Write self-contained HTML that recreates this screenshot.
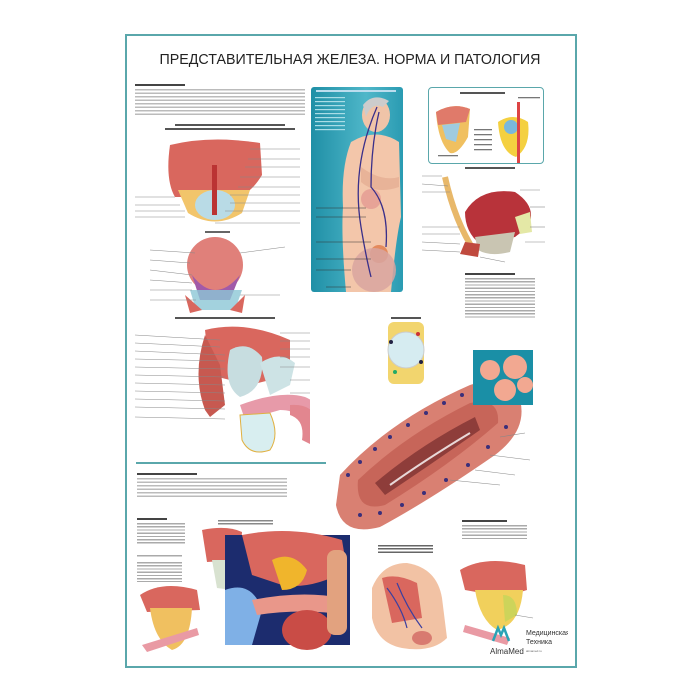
<!DOCTYPE html>
<html><head><meta charset="utf-8"><style>
html,body{margin:0;padding:0;background:#fff;width:700px;height:700px;overflow:hidden;font-family:"Liberation Sans",sans-serif}
.a{position:absolute}
</style></head><body>
<div class="a" style="left:125px;top:34px;width:448px;height:630px;border:2px solid #5aa7ab"></div>
<div class="a" style="left:120px;top:51px;width:460px;text-align:center;font-size:15px;color:#222;transform:scaleX(0.95)">ПРЕДСТАВИТЕЛЬНАЯ ЖЕЛЕЗА. НОРМА И ПАТОЛОГИЯ</div>

<div class="a" style="left:135px;top:84px;width:50px;height:2px;background:#444"></div>
<div class="a" style="left:135px;top:89px;width:170px;height:28px;background:repeating-linear-gradient(#bbb 0 1.3px,transparent 1.3px 3.5px)"></div>
<div class="a" style="left:175px;top:124px;width:110px;height:2px;background:#555"></div>
<div class="a" style="left:165px;top:128px;width:130px;height:2px;background:#555"></div>

<svg class="a" style="left:130px;top:135px" width="180" height="320">
<path d="M40 10 Q80 0 130 8 L132 40 Q120 60 105 62 L45 62 Q35 45 40 10Z" fill="#d9675e"/>
<path d="M48 55 L120 55 L112 78 Q85 95 58 78Z" fill="#f2c56b"/>
<ellipse cx="85" cy="70" rx="20" ry="15" fill="#b9dbe6"/>
<rect x="82" y="30" width="5" height="50" fill="#b33"/>
<g stroke="#888" stroke-width="0.6">
<line x1="120" y1="14" x2="170" y2="14"/><line x1="118" y1="24" x2="170" y2="24"/><line x1="115" y1="32" x2="170" y2="32"/><line x1="110" y1="42" x2="170" y2="42"/><line x1="108" y1="52" x2="170" y2="52"/><line x1="100" y1="60" x2="170" y2="60"/><line x1="100" y1="68" x2="170" y2="68"/><line x1="95" y1="76" x2="170" y2="76"/><line x1="85" y1="88" x2="170" y2="88"/>
<line x1="5" y1="62" x2="45" y2="62"/><line x1="5" y1="70" x2="50" y2="70"/><line x1="5" y1="76" x2="55" y2="76"/><line x1="5" y1="82" x2="55" y2="82"/>
</g>
<rect x="75" y="96" width="25" height="2" fill="#666"/>
<circle cx="85" cy="130" r="28" fill="#e0807a"/>
<path d="M62 140 Q85 170 110 140 L100 165 L70 165Z" fill="#a15aa8"/>
<path d="M60 155 L112 155 L105 175 L66 175Z" fill="#8cc7d6" opacity=".8"/>
<path d="M55 160 L72 175 L60 178Z" fill="#d9675e"/>
<path d="M115 160 L100 175 L112 178Z" fill="#d9675e"/>
<g stroke="#888" stroke-width="0.6">
<line x1="20" y1="115" x2="65" y2="118"/><line x1="20" y1="125" x2="60" y2="128"/><line x1="20" y1="135" x2="62" y2="140"/><line x1="20" y1="145" x2="62" y2="148"/><line x1="20" y1="155" x2="62" y2="155"/><line x1="20" y1="165" x2="66" y2="165"/><line x1="110" y1="118" x2="155" y2="112"/><line x1="110" y1="160" x2="150" y2="160"/>
</g>
<rect x="45" y="182" width="100" height="2" fill="#555"/>
<path d="M75 195 Q115 185 160 205 L160 240 Q140 245 120 250 L80 240Z" fill="#d9675e"/>
<path d="M75 200 Q62 240 75 275 L80 282 L95 270 L90 230Z" fill="#c75950"/>
<path d="M100 215 Q118 205 132 222 Q135 255 110 262 Q92 250 100 215Z" fill="#c7dde0"/>
<path d="M130 228 Q150 215 165 228 L160 250 L140 260Z" fill="#cde3e5"/>
<path d="M110 270 Q150 255 175 262 Q195 270 190 295 L180 300 Q175 275 150 275 L115 285Z" fill="#e79aa9"/>
<path d="M160 270 Q185 268 188 290 L182 310 L172 305 Q175 285 160 280Z" fill="#e2868f"/>
<path d="M110 280 L140 278 Q150 300 140 315 Q120 322 112 305Z" fill="#d8eef0" stroke="#e0b040"/>
<g stroke="#888" stroke-width="0.6">
<line x1="5" y1="200" x2="90" y2="205"/><line x1="5" y1="208" x2="90" y2="212"/><line x1="5" y1="216" x2="95" y2="220"/><line x1="5" y1="224" x2="95" y2="226"/><line x1="5" y1="232" x2="95" y2="234"/><line x1="5" y1="240" x2="95" y2="242"/><line x1="5" y1="248" x2="95" y2="250"/><line x1="5" y1="256" x2="95" y2="258"/><line x1="5" y1="264" x2="95" y2="266"/><line x1="5" y1="272" x2="95" y2="274"/><line x1="5" y1="282" x2="95" y2="284"/>
<line x1="150" y1="198" x2="180" y2="198"/><line x1="150" y1="206" x2="180" y2="206"/><line x1="150" y1="214" x2="180" y2="214"/><line x1="150" y1="222" x2="180" y2="222"/><line x1="150" y1="232" x2="180" y2="232"/><line x1="160" y1="245" x2="180" y2="245"/><line x1="160" y1="258" x2="180" y2="258"/>
</g>
</svg>

<div class="a" style="left:136px;top:462px;width:190px;height:1.5px;background:#5aa7ab"></div>
<div class="a" style="left:137px;top:473px;width:60px;height:2px;background:#444"></div>
<div class="a" style="left:137px;top:478px;width:150px;height:20px;background:repeating-linear-gradient(#bbb 0 1.3px,transparent 1.3px 3.5px)"></div>

<div class="a" style="left:311px;top:87px;width:92px;height:205px;background:linear-gradient(90deg,#1f8fa6,#4fb7c9 60%,#2a9bb2);border-radius:3px"></div>
<svg class="a" style="left:311px;top:87px" width="92" height="205">
<rect x="5" y="3" width="80" height="2" fill="#bde"/>
<g fill="#a9dde6"><rect x="4" y="10" width="30" height="1.2"/><rect x="4" y="14" width="30" height="1.2"/><rect x="4" y="18" width="30" height="1.2"/><rect x="4" y="22" width="30" height="1.2"/><rect x="4" y="26" width="30" height="1.2"/><rect x="4" y="30" width="30" height="1.2"/><rect x="4" y="34" width="30" height="1.2"/><rect x="4" y="38" width="30" height="1.2"/><rect x="4" y="42" width="30" height="1.2"/></g>
<ellipse cx="65" cy="28" rx="14" ry="17" fill="#f0c4a8"/>
<path d="M52 18 Q62 5 78 14 L72 20 Q60 15 55 30Z" fill="#ccc"/>
<path d="M40 55 Q65 40 88 55 L90 130 Q85 150 80 205 L35 205 Q30 150 32 120 Q30 80 40 55Z" fill="#f3c6aa"/>
<path d="M50 80 Q70 95 88 90 L88 100 Q65 108 50 95Z" fill="#e8b398"/>
<circle cx="60" cy="112" r="10" fill="#e39a92" opacity=".8"/>
<circle cx="68" cy="167" r="9" fill="#e07a4a" opacity=".8"/>
<circle cx="63" cy="183" r="22" fill="#d8a5a0" opacity=".85"/>
<path d="M66 20 Q40 80 50 140 Q55 170 60 190" stroke="#3a2f8a" stroke-width="1.3" fill="none"/>
<path d="M68 25 Q60 60 60 100 Q78 120 75 160" stroke="#3a2f8a" stroke-width="1.3" fill="none"/>
<g stroke="#333" stroke-width="0.5"><line x1="5" y1="121" x2="55" y2="121"/><line x1="5" y1="130" x2="55" y2="130"/><line x1="5" y1="155" x2="60" y2="155"/><line x1="5" y1="172" x2="60" y2="172"/><line x1="5" y1="183" x2="40" y2="183"/><line x1="15" y1="200" x2="40" y2="200"/></g>
</svg>

<div class="a" style="left:428px;top:87px;width:114px;height:75px;border:1.5px solid #5aa7ab;border-radius:4px"></div>
<div class="a" style="left:460px;top:92px;width:45px;height:2px;background:#555"></div>
<svg class="a" style="left:428px;top:87px" width="116" height="76">
<path d="M8 25 Q25 15 42 22 L40 50 Q30 68 22 66 Q10 55 8 25Z" fill="#f0c060"/>
<path d="M8 25 Q25 15 42 22 L38 35 L10 38Z" fill="#e07a6a"/>
<path d="M14 38 L32 36 L28 55 L18 52Z" fill="#9fcbe0"/>
<path d="M70 35 Q85 25 100 35 Q103 60 88 70 Q72 65 70 35Z" fill="#f4d040"/>
<circle cx="83" cy="40" r="7" fill="#7ab8dc"/>
<rect x="89" y="15" width="3" height="62" fill="#d44"/>
<g fill="#777"><rect x="46" y="42" width="18" height="1.3"/><rect x="46" y="47" width="18" height="1.3"/><rect x="46" y="52" width="18" height="1.3"/><rect x="46" y="57" width="18" height="1.3"/><rect x="46" y="62" width="18" height="1.3"/><rect x="90" y="10" width="22" height="1.3"/><rect x="10" y="68" width="20" height="1.3"/></g>
</svg>
<div class="a" style="left:465px;top:167px;width:50px;height:2px;background:#555"></div>

<svg class="a" style="left:420px;top:172px" width="130" height="100">
<path d="M25 5 Q35 50 55 80" stroke="#e8b86a" stroke-width="6" fill="none"/>
<path d="M45 40 Q60 15 95 20 Q118 35 108 55 L95 65 L60 72 Q45 60 45 40Z" fill="#b8333a"/>
<path d="M95 45 L110 40 L112 60 L100 62Z" fill="#e4e8a6"/>
<path d="M55 65 L95 60 L90 80 Q70 85 58 78Z" fill="#c9c5b2"/>
<path d="M45 70 L60 72 L58 85 L40 82Z" fill="#c04a3e"/>
<g stroke="#888" stroke-width="0.6"><line x1="2" y1="4" x2="22" y2="4"/><line x1="2" y1="12" x2="28" y2="14"/><line x1="2" y1="20" x2="30" y2="20"/><line x1="2" y1="55" x2="40" y2="55"/><line x1="2" y1="62" x2="40" y2="62"/><line x1="2" y1="70" x2="40" y2="72"/><line x1="2" y1="78" x2="40" y2="80"/><line x1="100" y1="18" x2="120" y2="18"/><line x1="110" y1="35" x2="125" y2="35"/><line x1="110" y1="55" x2="125" y2="55"/><line x1="105" y1="70" x2="125" y2="70"/><line x1="60" y1="85" x2="85" y2="90"/></g>
</svg>
<div class="a" style="left:465px;top:273px;width:50px;height:2px;background:#444"></div>
<div class="a" style="left:465px;top:278px;width:70px;height:40px;background:repeating-linear-gradient(#aaa 0 1.3px,transparent 1.3px 3.2px)"></div>

<svg class="a" style="left:383px;top:312px" width="60" height="75">
<rect x="8" y="5" width="30" height="2" fill="#555"/>
<rect x="5" y="10" width="36" height="62" rx="6" fill="#f2d56e"/>
<circle cx="23" cy="38" r="18" fill="#d6ecf1" stroke="#ccc"/>
<circle cx="8" cy="30" r="2" fill="#224"/><circle cx="38" cy="50" r="2" fill="#224"/><circle cx="12" cy="60" r="2" fill="#2a6"/><circle cx="35" cy="22" r="2" fill="#c33"/>
</svg>

<svg class="a" style="left:330px;top:345px" width="210" height="200">
<path d="M10 130 Q60 75 140 40 Q178 28 190 55 Q198 85 165 110 Q100 155 50 182 Q12 192 6 160Z" fill="#d98072"/>
<path d="M28 135 Q75 90 140 58 Q170 52 168 78 Q120 120 55 160 Q25 168 28 135Z" fill="#c76559"/>
<path d="M45 138 Q90 100 145 72 L150 85 Q100 120 55 150Z" fill="#8e3d3a"/>
<path d="M60 140 Q95 115 140 88" stroke="#e8d8d8" stroke-width="2" fill="none"/>
<g fill="#3b2f7a">
<circle cx="18" cy="130" r="2"/><circle cx="30" cy="117" r="2"/><circle cx="45" cy="104" r="2"/><circle cx="60" cy="92" r="2"/><circle cx="78" cy="80" r="2"/><circle cx="96" cy="68" r="2"/><circle cx="114" cy="58" r="2"/><circle cx="132" cy="50" r="2"/>
<circle cx="30" cy="170" r="2"/><circle cx="50" cy="168" r="2"/><circle cx="72" cy="160" r="2"/><circle cx="94" cy="148" r="2"/><circle cx="116" cy="135" r="2"/><circle cx="138" cy="120" r="2"/><circle cx="158" cy="102" r="2"/><circle cx="176" cy="82" r="2"/>
</g>
<g stroke="#888" stroke-width="0.6"><line x1="170" y1="92" x2="195" y2="88"/><line x1="160" y1="110" x2="200" y2="115"/><line x1="145" y1="125" x2="185" y2="130"/><line x1="120" y1="135" x2="170" y2="140"/></g>
<rect x="143" y="5" width="60" height="55" fill="#1a8fa6"/>
<g fill="#f2a891"><circle cx="160" cy="25" r="10"/><circle cx="185" cy="22" r="12"/><circle cx="175" cy="45" r="11"/><circle cx="195" cy="40" r="8"/></g>
</svg>

<div class="a" style="left:137px;top:518px;width:30px;height:2px;background:#444"></div>
<div class="a" style="left:137px;top:523px;width:48px;height:22px;background:repeating-linear-gradient(#aaa 0 1.3px,transparent 1.3px 3.2px)"></div>
<div class="a" style="left:137px;top:555px;width:45px;height:3px;background:repeating-linear-gradient(#aaa 0 1.3px,transparent 1.3px 3px)"></div>
<div class="a" style="left:137px;top:562px;width:45px;height:20px;background:repeating-linear-gradient(#aaa 0 1.3px,transparent 1.3px 3.2px)"></div>
<svg class="a" style="left:132px;top:520px" width="240" height="140">
<path d="M8 75 Q30 60 65 70 L68 90 L15 92Z" fill="#d9675e"/>
<path d="M18 88 L60 88 Q58 125 40 130 Q22 120 18 88Z" fill="#f0c060"/>
<path d="M10 125 L65 108 L67 115 L15 132Z" fill="#e99aa4"/>
<path d="M70 10 Q95 5 110 12 L108 40 L75 42Z" fill="#d9675e"/>
<path d="M80 40 L105 40 L100 70 L85 68Z" fill="#d8e2d0"/>
<rect x="93" y="15" width="125" height="110" fill="#1c2c6e"/>
<path d="M93 70 Q120 60 130 90 L120 125 L93 125Z" fill="#7fb0e6"/>
<path d="M110 15 Q160 5 210 20 L215 50 Q180 70 150 65 L120 55Z" fill="#d9675e"/>
<path d="M140 40 Q160 30 175 50 Q170 70 150 70Z" fill="#f0b52c"/>
<path d="M120 80 Q170 70 210 78 L215 95 Q170 88 125 95Z" fill="#e9978a"/>
<ellipse cx="175" cy="110" rx="25" ry="20" fill="#c94c46"/>
<rect x="195" y="30" width="20" height="85" rx="8" fill="#e2a27f"/>
</svg>
<div class="a" style="left:218px;top:520px;width:55px;height:6px;background:repeating-linear-gradient(#888 0 1.3px,transparent 1.3px 3px)"></div>

<div class="a" style="left:378px;top:545px;width:55px;height:9px;background:repeating-linear-gradient(#666 0 1.5px,transparent 1.5px 3.2px)"></div>
<svg class="a" style="left:362px;top:558px" width="90" height="100">
<path d="M10 30 Q20 5 45 5 Q75 10 80 40 L85 80 Q70 95 40 90 Q15 85 10 60Z" fill="#f2c2a4"/>
<path d="M20 20 Q35 15 55 25 L60 60 L30 65Z" fill="#d9675e"/>
<path d="M25 30 Q40 50 45 70 M35 25 Q45 50 60 70" stroke="#3b3fa0" stroke-width="1.2" fill="none"/>
<ellipse cx="60" cy="80" rx="10" ry="7" fill="#d87a70"/>
</svg>

<div class="a" style="left:462px;top:520px;width:45px;height:2px;background:#444"></div>
<div class="a" style="left:462px;top:525px;width:65px;height:15px;background:repeating-linear-gradient(#aaa 0 1.3px,transparent 1.3px 3.2px)"></div>
<svg class="a" style="left:455px;top:550px" width="90" height="95">
<path d="M5 20 Q30 5 70 15 L72 40 Q50 48 10 40Z" fill="#d9675e"/>
<path d="M20 40 L68 40 Q65 75 42 80 Q25 70 20 40Z" fill="#f1d05c"/>
<path d="M48 45 Q62 45 62 65 L50 72Z" fill="#cdd45a"/>
<path d="M10 75 L55 88 L52 95 L8 82Z" fill="#e99aa4"/>
<line x1="60" y1="65" x2="78" y2="68" stroke="#888" stroke-width=".6"/>
</svg>

<svg class="a" style="left:488px;top:623px" width="80" height="35">
<path d="M5 18 L10 5 L13 12 L16 5 L21 18" stroke="#2aa3b5" stroke-width="2.5" fill="none"/>
<text x="2" y="31" font-family="Liberation Sans" font-size="8" fill="#333">AlmaMed</text>
<text x="38" y="12" font-family="Liberation Sans" font-size="7" fill="#333">Медицинская</text>
<text x="38" y="21" font-family="Liberation Sans" font-size="7" fill="#333">Техника</text>
<text x="38" y="29" font-family="Liberation Sans" font-size="3" fill="#666">almamed.ru</text>
</svg>
</body></html>
